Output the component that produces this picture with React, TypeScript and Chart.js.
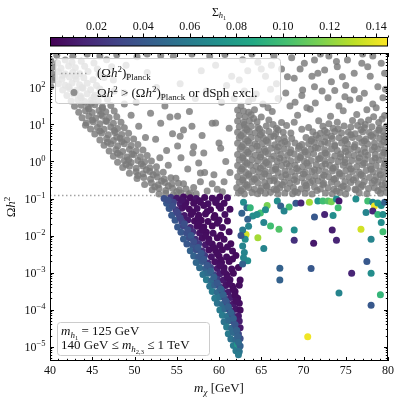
import { useEffect, useRef } from "react";
import { Chart, registerables } from "chart.js";

Chart.register(...registerables);

// ---------- axes / scales ----------
const xRange = [40, 80];
const yRange = [4.1e-6, 850];
const xMajorTicks = [40, 45, 50, 55, 60, 65, 70, 75, 80];
const yDecadeExponents = [-5, -4, -3, -2, -1, 0, 1, 2];
const sigmaRange = [0, 0.145];
const sigmaTicks = [0.02, 0.04, 0.06, 0.08, 0.1, 0.12, 0.14];
const planckOmega = 0.12;

// ---------- data: [m_chi (GeV), log10(Omega h^2)] for excluded points (grey) ----------
const excludedPoints: [number, number][] = [
  // upper left band
  [40.8,2.87],[42.7,2.84],[44.4,2.9],[45.9,2.85],[47.9,2.88],[50.3,2.83],[51.5,2.9],[53.1,2.86],[54.6,2.84],[56.8,2.9],[58.9,2.85],[60.7,2.89],
  [40.1,2.72],[40.9,2.66],[41.8,2.74],[42.6,2.68],[43.7,2.71],[45.2,2.66],[46.7,2.75],
  [40.4,2.55],[41.3,2.52],[42.2,2.58],[43.0,2.53],[44.1,2.57],[45.6,2.5],[47.3,2.56],[49.0,2.6],
  [40.2,2.38],[41.0,2.42],[41.8,2.36],[42.7,2.41],[43.5,2.37],[44.5,2.43],[45.8,2.35],
  [40.3,2.2],[40.6,2.27],[41.4,2.22],[42.3,2.28],[43.1,2.23],[44.0,2.26],[45.1,2.21],[46.4,2.27],
  [40.1,2.02],[41.0,2.1],[41.8,2.06],[42.6,2.12],[43.5,2.07],[44.4,2.11],[45.5,2.05],
  [41.5,1.93],[42.3,1.97],[43.1,1.92],[43.9,1.98],[44.8,1.94],[45.9,1.96],[47.6,1.9],
  [42.0,1.78],[42.8,1.82],[43.6,1.77],[44.4,1.83],[45.3,1.79],[46.3,1.81],
  [42.5,1.63],[43.3,1.67],[44.1,1.62],[44.9,1.66],[45.7,1.64],[46.8,1.68],
  [42.9,1.49],[43.7,1.52],[44.5,1.47],[45.3,1.53],[46.2,1.48],[47.2,1.51],[48.8,1.55],
  [43.4,1.33],[44.2,1.37],[45.0,1.32],[45.8,1.38],[46.6,1.34],[47.6,1.36],
  [43.8,1.18],[44.6,1.22],[45.4,1.17],[46.2,1.23],[47.0,1.19],[47.9,1.21],[49.6,1.25],
  [44.3,1.04],[45.1,1.07],[45.9,1.02],[46.7,1.08],[47.5,1.03],[48.4,1.06],
  [44.8,0.88],[45.6,0.92],[46.4,0.87],[47.2,0.93],[48.0,0.89],[48.8,0.91],[50.5,0.95],
  [45.3,0.74],[46.1,0.77],[46.9,0.72],[47.7,0.78],[48.5,0.73],[49.3,0.76],
  [45.9,0.58],[46.7,0.62],[47.5,0.57],[48.3,0.63],[49.1,0.59],[49.9,0.61],[51.3,0.65],
  [46.4,0.44],[47.2,0.47],[48.0,0.42],[48.8,0.48],[49.6,0.43],[50.4,0.46],
  [47.0,0.28],[47.8,0.32],[48.6,0.27],[49.4,0.33],[50.2,0.29],[51.0,0.31],
  [47.5,0.14],[48.3,0.17],[49.1,0.12],[49.9,0.18],[50.7,0.13],[51.5,0.16],
  [48.0,-0.02],[48.8,0.02],[49.6,-0.03],[50.4,0.03],[51.2,-0.01],[52.0,0.01],
  [48.6,-0.16],[49.4,-0.13],[50.2,-0.18],[51.0,-0.12],[51.8,-0.17],[52.6,-0.14],
  [49.4,-0.32],[50.2,-0.28],[51.0,-0.33],[51.8,-0.27],[52.6,-0.31],[53.4,-0.29],
  [50.3,-0.46],[51.1,-0.43],[51.9,-0.48],[52.7,-0.42],[53.5,-0.47],[54.3,-0.44],
  [51.2,-0.62],[52.0,-0.58],[52.8,-0.63],[53.6,-0.57],[54.4,-0.61],[55.2,-0.59],
  [52.1,-0.76],[52.9,-0.73],[53.7,-0.78],[54.5,-0.72],[55.3,-0.77],[56.1,-0.74],
  [52.9,-0.88],[53.7,-0.86],[54.6,-0.9],[55.5,-0.85],[56.4,-0.89],[57.3,-0.87],
  // band, in-between points
  [44.6,1.42],[46.2,1.44],[45.0,1.12],[46.6,1.1],[45.9,0.82],[47.6,0.84],[46.8,0.52],[48.5,0.54],[48.0,0.22],[49.7,0.2],
  [49.0,-0.08],[50.8,-0.06],[50.4,-0.38],[52.2,-0.36],[52.4,-0.68],[54.0,-0.66],[43.7,1.72],[45.2,1.74],[42.2,2.02],[43.8,2.0],
  [41.5,2.32],[43.0,2.3],[44.2,0.98],[47.9,0.66],[49.3,0.05],[51.4,-0.22],[53.2,-0.53],[55.0,-0.82],[46.0,1.27],[44.9,1.57],
  // scattered between band and resonance
  [51.9,1.3],[53.1,1.03],[53.6,1.5],[54.2,1.2],[55.1,1.22],[55.8,0.85],[56.5,1.35],[59.2,1.03],[59.6,1.04],[58.2,0.23],
  [60.0,0.5],[57.6,-0.04],[59.4,-0.36],[52.5,0.6],[53.8,0.3],[54.5,0.75],[55.5,0.1],[56.3,-0.2],[57.0,0.4],[56.8,0.95],
  [58.0,0.7],[60.8,0.0],[61.2,0.9],[60.3,1.6],[58.5,1.9],[57.2,1.7],[55.4,2.1],[61.5,2.3],[59.6,2.6],[57.9,2.45],
  [50.2,1.6],[52.6,2.0],[49.2,2.3],[54.9,-0.45],[55.8,-0.6],[57.0,-0.7],[57.8,-0.55],[58.6,-0.8],[58.3,-0.3],[56.6,-0.85],
  [59.8,-0.75],[60.6,-0.55],[61.3,-0.3],[53.4,1.75],[51.5,2.4],[48.8,1.85],[47.5,2.2],[55.4,0.68],[55.1,0.42],[56.9,0.23],
  [57.8,-0.31],[60.2,0.36],[59.2,-0.6],[60.4,-0.82],[54.0,-0.1],[53.0,0.1],
  // dense cloud above the resonance
  [62.3,-0.85],[63.0,-0.88],[63.9,-0.84],[64.6,-0.87],[65.5,-0.86],[66.1,-0.83],[67.0,-0.88],[67.8,-0.85],[68.7,-0.87],[69.3,-0.84],
  [70.2,-0.86],[71.0,-0.88],[72.6,-0.85],[73.4,-0.87],[74.3,-0.84],[75.0,-0.88],[76.6,-0.85],[77.5,-0.87],[79.1,-0.86],[79.8,-0.84],
  [62.1,-0.71],[62.8,-0.74],[63.5,-0.7],[64.2,-0.75],[65.0,-0.72],[65.7,-0.69],[66.5,-0.75],[67.2,-0.71],[68.1,-0.73],[68.8,-0.7],
  [69.7,-0.74],[70.4,-0.72],[71.3,-0.69],[72.0,-0.74],[72.9,-0.71],[73.6,-0.75],[74.5,-0.7],[75.2,-0.73],[76.1,-0.75],[76.8,-0.69],
  [77.7,-0.73],[78.4,-0.71],[79.2,-0.74],[79.9,-0.7],
  [62.4,-0.56],[63.1,-0.6],[63.9,-0.55],[64.6,-0.58],[65.4,-0.57],[66.0,-0.53],[66.9,-0.6],[67.7,-0.56],[68.4,-0.59],[69.2,-0.54],
  [70.1,-0.58],[70.8,-0.57],[71.7,-0.53],[72.4,-0.59],[73.3,-0.56],[74.0,-0.6],[74.9,-0.55],[75.6,-0.57],[76.5,-0.6],[77.2,-0.54],
  [78.1,-0.58],[78.8,-0.56],[79.7,-0.59],
  [62.2,-0.41],[62.9,-0.44],[63.6,-0.4],[64.4,-0.43],[65.1,-0.42],[65.9,-0.39],[66.6,-0.45],[67.4,-0.41],[68.2,-0.43],[69.0,-0.4],
  [69.8,-0.44],[70.6,-0.42],[71.4,-0.39],[72.2,-0.43],[73.0,-0.41],[73.8,-0.45],[74.6,-0.4],[75.4,-0.42],[76.2,-0.44],[77.0,-0.39],
  [77.8,-0.43],[78.6,-0.41],[79.4,-0.44],
  [62.5,-0.26],[63.2,-0.3],[64.0,-0.25],[64.7,-0.28],[65.5,-0.27],[66.3,-0.24],[67.0,-0.3],[67.8,-0.26],[68.6,-0.28],[69.4,-0.25],
  [70.2,-0.29],[71.0,-0.27],[71.8,-0.24],[72.6,-0.28],[73.4,-0.26],[74.2,-0.3],[75.0,-0.25],[75.8,-0.27],[76.6,-0.29],[77.4,-0.24],
  [78.2,-0.28],[79.0,-0.26],[79.8,-0.29],
  [62.2,-0.11],[62.9,-0.14],[63.7,-0.1],[64.4,-0.13],[65.2,-0.12],[65.9,-0.09],[66.7,-0.15],[67.4,-0.11],[68.3,-0.13],[69.0,-0.1],
  [69.9,-0.14],[70.6,-0.12],[71.5,-0.09],[72.2,-0.13],[73.1,-0.11],[73.8,-0.15],[74.7,-0.1],[75.4,-0.12],[76.3,-0.14],[77.0,-0.09],
  [77.9,-0.13],[78.6,-0.11],[79.5,-0.14],
  [62.4,0.04],[63.1,0.0],[63.9,0.05],[64.6,0.02],[65.4,0.03],[66.2,0.06],[66.9,0.0],[67.7,0.04],[68.5,0.02],[69.3,0.05],
  [70.1,0.01],[70.9,0.03],[71.7,0.06],[72.5,0.02],[73.3,0.04],[74.1,0.0],[74.9,0.05],[75.7,0.03],[76.5,0.01],[77.3,0.06],
  [78.1,0.02],[78.9,0.04],[79.7,0.01],
  [62.2,0.19],[62.9,0.16],[63.6,0.2],[64.3,0.17],[65.0,0.18],[65.8,0.21],[66.5,0.15],[67.3,0.19],[68.1,0.17],[68.9,0.2],
  [69.7,0.16],[70.5,0.18],[71.2,0.21],[72.1,0.17],[72.8,0.19],[73.7,0.15],[74.4,0.2],[75.3,0.18],[76.0,0.16],[76.8,0.21],
  [77.6,0.17],[78.5,0.19],[79.3,0.16],[79.9,0.2],
  [62.5,0.34],[63.2,0.31],[63.9,0.35],[64.7,0.32],[65.4,0.33],[66.2,0.36],[66.9,0.3],[67.7,0.34],[68.5,0.32],[69.4,0.35],
  [70.1,0.31],[70.9,0.33],[71.7,0.36],[72.5,0.32],[73.3,0.34],[74.0,0.3],[74.9,0.35],[75.6,0.33],[76.4,0.31],[77.2,0.36],
  [78.1,0.32],[78.8,0.34],[79.6,0.31],
  [62.2,0.49],[62.9,0.46],[63.6,0.5],[64.3,0.47],[65.1,0.48],[65.8,0.51],[66.6,0.45],[67.4,0.49],[68.1,0.47],[69.0,0.5],
  [69.8,0.46],[70.6,0.48],[71.3,0.51],[72.1,0.47],[72.9,0.49],[73.7,0.45],[74.5,0.5],[75.2,0.48],[76.1,0.46],[76.9,0.51],
  [77.6,0.47],[78.4,0.49],[79.2,0.46],[79.9,0.5],
  [62.4,0.64],[63.1,0.61],[63.8,0.65],[64.6,0.62],[65.3,0.63],[66.1,0.66],[67.0,0.6],[67.7,0.64],[68.6,0.62],[70.3,0.65],
  [71.0,0.61],[71.8,0.63],[72.6,0.66],[73.4,0.62],[74.2,0.64],[75.0,0.6],[75.8,0.65],[76.6,0.63],[77.4,0.61],[78.2,0.66],
  [79.0,0.62],[79.7,0.64],
  [62.2,0.79],[62.9,0.76],[63.6,0.8],[64.3,0.77],[65.1,0.78],[65.9,0.81],[66.7,0.75],[67.6,0.79],[68.5,0.77],[71.1,0.8],
  [72.0,0.76],[72.8,0.78],[73.7,0.81],[74.5,0.77],[75.3,0.79],[76.1,0.75],[77.0,0.8],[77.8,0.78],[78.6,0.76],[79.4,0.81],
  [62.4,0.94],[63.1,0.91],[63.8,0.95],[64.6,0.92],[65.6,0.96],[66.8,0.9],[68.0,0.97],[70.6,0.92],[72.3,0.95],[73.5,0.9],
  [74.8,0.96],[75.6,0.93],[76.4,0.97],[77.2,0.91],[78.1,0.94],[79.0,0.9],[79.8,0.95],
  [62.2,1.09],[62.9,1.06],[63.6,1.1],[64.5,1.07],[65.9,1.12],[67.4,1.05],[71.8,1.1],[74.0,1.06],[75.8,1.11],[76.8,1.07],
  [77.7,1.12],[78.9,1.05],
  [62.4,1.24],[63.1,1.21],[63.8,1.26],[65.0,1.2],[69.3,1.25],[73.2,1.22],[76.3,1.27],[78.3,1.21],[79.6,1.24],
  [62.2,1.39],[62.9,1.36],[64.2,1.4],[66.3,1.35],[70.8,1.41],[74.7,1.37],[77.5,1.4],
  // dense cloud, in-between points
  [62.6,-0.79],[64.9,-0.8],[66.8,-0.77],[69.0,-0.81],[71.6,-0.78],[73.9,-0.8],[76.2,-0.77],[78.8,-0.79],
  [63.3,-0.64],[65.6,-0.66],[67.5,-0.63],[70.3,-0.65],[72.3,-0.62],[74.7,-0.66],[77.0,-0.64],[79.3,-0.63],
  [62.8,-0.5],[64.2,-0.48],[66.5,-0.51],[68.9,-0.49],[71.1,-0.52],[73.6,-0.48],[75.9,-0.5],[78.4,-0.51],
  [63.5,-0.35],[65.4,-0.33],[67.9,-0.36],[70.0,-0.34],[72.4,-0.37],[74.3,-0.33],[76.8,-0.35],[79.1,-0.36],
  [62.7,-0.2],[64.9,-0.18],[66.7,-0.21],[69.2,-0.19],[71.3,-0.22],[73.5,-0.18],[75.6,-0.2],[78.0,-0.21],
  [63.3,-0.05],[65.6,-0.03],[68.0,-0.06],[70.4,-0.04],[72.6,-0.07],[74.9,-0.03],[77.2,-0.05],[79.6,-0.06],
  [62.8,0.1],[64.9,0.12],[67.2,0.09],[69.6,0.11],[71.9,0.08],[74.4,0.12],[76.6,0.1],[78.5,0.09],
  [63.4,0.25],[65.5,0.27],[68.4,0.24],[70.2,0.26],[72.6,0.23],[75.0,0.27],[77.3,0.25],[79.5,0.24],
  [62.7,0.4],[64.5,0.42],[67.0,0.39],[69.5,0.41],[71.4,0.38],[73.7,0.42],[76.0,0.4],[78.4,0.39],
  [63.4,0.55],[65.6,0.57],[67.8,0.54],[70.9,0.56],[72.5,0.53],[74.9,0.57],[77.2,0.55],[79.5,0.54],
  [62.6,0.7],[64.9,0.72],[66.5,0.69],[71.5,0.71],[73.3,0.68],[75.6,0.72],[78.0,0.7],[79.5,0.69],
  [63.3,0.86],[64.8,0.88],[67.0,0.85],[69.8,0.87],[72.5,0.84],[74.1,0.88],[76.8,0.86],[78.9,0.85],
  [63.0,1.0],[64.1,1.16],[66.4,1.0],[68.9,1.06],[73.0,1.02],[77.3,1.0],[79.3,1.15],[63.5,1.33],
  // medium / sparse upper right
  [62.6,1.5],[63.5,1.62],[65.2,1.55],[67.0,1.7],[68.4,1.5],[69.8,1.78],[71.4,1.58],[72.9,1.72],[74.2,1.5],[75.5,1.66],
  [78.2,1.55],[79.4,1.72],[64.4,1.82],[66.1,1.95],[73.7,1.92],
  [62.4,2.2],[63.4,2.45],[64.6,2.68],[65.5,2.3],[66.5,2.85],[67.4,2.5],[63.9,2.9],[62.8,2.75],
  [70.1,2.65],[71.3,2.74],[71.7,2.38],[72.5,2.47],[74.0,2.56],[75.2,2.74],[76.0,2.38],[77.6,2.56],[79.2,2.65],[79.6,2.38],
  [68.1,2.29],[68.9,2.25],[69.9,1.93],[71.3,2.02],[73.3,2.15],[74.6,2.29],[76.0,1.93],[77.2,1.84],[78.8,2.02],[73.0,2.85],
  [77.0,2.9],[68.6,2.8],
  [64.0,1.7],[65.8,1.45],[66.8,2.1],[67.9,1.85],[69.0,1.6],[70.4,1.45],[71.0,2.3],[72.2,1.9],[73.9,2.7],[75.0,2.05],
  [76.6,1.7],[77.9,2.3],[78.6,1.45],[79.7,1.95],[65.0,2.5],[66.2,2.6],[69.6,2.5],[72.0,2.9],[74.9,1.75],[76.9,2.65],
  [78.2,2.85],[63.0,1.9],[61.8,1.7],[60.9,2.05],
];

// ---------- data: [m_chi (GeV), log10(Omega h^2), Sigma_h1] for allowed points ----------
const allowedPoints: [number, number, number][] = [
  [53.5,-1.0,0.035],[54.3,-0.97,0.025],[55.0,-0.99,0.01],[55.8,-0.96,0.006],[56.6,-0.98,0.005],[57.3,-1.0,0.008],[58.3,-0.97,0.005],[59.2,-0.99,0.006],[60.1,-0.96,0.004],[61.0,-0.98,0.007],
  [53.8,-1.13,0.04],[54.6,-1.1,0.03],[55.4,-1.14,0.012],[56.1,-1.11,0.006],[57.0,-1.13,0.005],[57.8,-1.1,0.004],[58.7,-1.14,0.006],[59.6,-1.11,0.005],[60.6,-1.13,0.005],
  [54.1,-1.27,0.04],[54.9,-1.3,0.02],[55.6,-1.26,0.008],[56.5,-1.29,0.005],[57.4,-1.27,0.006],[59.0,-1.3,0.004],[60.2,-1.26,0.006],[61.3,-1.29,0.005],
  [54.4,-1.45,0.04],[55.2,-1.42,0.03],[55.9,-1.46,0.01],[56.7,-1.43,0.006],[57.6,-1.45,0.005],[58.4,-1.42,0.005],[59.5,-1.46,0.004],[60.7,-1.43,0.006],
  [54.8,-1.59,0.04],[55.6,-1.62,0.03],[56.3,-1.58,0.01],[57.1,-1.61,0.005],[57.9,-1.59,0.004],[58.7,-1.62,0.005],[60.0,-1.58,0.006],[61.0,-1.61,0.004],
  [55.1,-1.77,0.04],[55.8,-1.74,0.03],[56.6,-1.78,0.015],[57.4,-1.75,0.006],[58.2,-1.77,0.005],[59.2,-1.74,0.004],[60.4,-1.78,0.005],
  [55.5,-1.91,0.04],[56.2,-1.94,0.035],[56.9,-1.9,0.02],[57.7,-1.93,0.008],[58.5,-1.91,0.005],[59.3,-1.94,0.006],[61.2,-1.9,0.005],
  [55.8,-2.09,0.042],[56.5,-2.06,0.035],[57.2,-2.1,0.02],[58.0,-2.07,0.006],[58.8,-2.09,0.005],[59.8,-2.06,0.004],[60.6,-2.1,0.005],
  [56.2,-2.23,0.04],[56.9,-2.26,0.038],[57.6,-2.22,0.025],[58.4,-2.25,0.01],[59.2,-2.23,0.005],[60.1,-2.26,0.005],[61.4,-2.22,0.004],
  [56.6,-2.41,0.045],[57.3,-2.38,0.035],[58.0,-2.42,0.02],[58.8,-2.39,0.006],[59.6,-2.41,0.005],[60.4,-2.38,0.004],[61.6,-2.42,0.005],
  [57.0,-2.55,0.045],[57.6,-2.58,0.04],[58.3,-2.54,0.025],[59.1,-2.57,0.008],[60.0,-2.55,0.005],[60.9,-2.58,0.005],[62.0,-2.54,0.004],
  [57.3,-2.73,0.048],[58.0,-2.7,0.042],[58.7,-2.74,0.02],[59.5,-2.71,0.006],[60.3,-2.73,0.005],[61.2,-2.7,0.004],
  [57.7,-2.87,0.05],[58.4,-2.9,0.045],[59.0,-2.86,0.03],[59.8,-2.89,0.01],[60.6,-2.87,0.005],[61.5,-2.9,0.005],[62.3,-2.86,0.004],
  [58.1,-3.05,0.055],[58.7,-3.02,0.05],[59.4,-3.06,0.03],[60.1,-3.03,0.012],[60.9,-3.05,0.005],[61.7,-3.02,0.004],
  [58.5,-3.19,0.06],[59.1,-3.22,0.05],[59.8,-3.18,0.025],[60.5,-3.21,0.01],[61.3,-3.19,0.005],[62.5,-3.2,0.005],
  [58.9,-3.37,0.055],[59.5,-3.34,0.045],[60.1,-3.38,0.03],[60.8,-3.35,0.008],[61.6,-3.37,0.004],[62.4,-3.34,0.005],
  [59.2,-3.51,0.06],[59.8,-3.54,0.05],[60.4,-3.5,0.03],[61.1,-3.53,0.01],[61.9,-3.51,0.005],
  [59.5,-3.69,0.06],[60.1,-3.66,0.055],[60.7,-3.7,0.035],[61.4,-3.67,0.012],[62.2,-3.69,0.005],
  [59.8,-3.83,0.055],[60.4,-3.86,0.05],[61.0,-3.82,0.03],[61.7,-3.85,0.01],[62.4,-3.83,0.006],
  [60.1,-4.01,0.06],[60.7,-3.98,0.05],[61.3,-4.02,0.03],[62.0,-3.99,0.008],[62.5,-4.01,0.005],
  [60.4,-4.15,0.06],[61.0,-4.18,0.055],[61.6,-4.14,0.03],[62.3,-4.17,0.01],
  [60.6,-4.33,0.055],[61.2,-4.3,0.05],[61.8,-4.34,0.035],[62.4,-4.31,0.012],
  [60.9,-4.47,0.06],[61.5,-4.5,0.05],[62.1,-4.46,0.03],[62.5,-4.49,0.01],
  [61.1,-4.65,0.06],[61.7,-4.62,0.05],[62.3,-4.66,0.03],
  [61.4,-4.79,0.055],[62.0,-4.82,0.05],[62.5,-4.78,0.035],
  [61.7,-4.97,0.06],[62.2,-4.94,0.08],[62.5,-4.98,0.045],
  [62.0,-5.11,0.06],[62.4,-5.13,0.055],
  [62.3,-5.22,0.06],
  // triangle, in-between points
  [54.0,-1.05,0.035],[55.6,-1.05,0.008],[57.7,-1.06,0.005],[59.7,-1.04,0.006],
  [54.5,-1.2,0.035],[56.0,-1.21,0.006],[58.2,-1.19,0.005],[60.0,-1.2,0.005],
  [55.0,-1.36,0.03],[56.9,-1.37,0.005],[58.6,-1.35,0.005],
  [55.4,-1.52,0.03],[57.5,-1.53,0.005],[59.4,-1.51,0.004],
  [55.9,-1.68,0.035],[57.6,-1.69,0.005],[59.8,-1.67,0.005],
  [56.3,-1.84,0.035],[58.0,-1.85,0.005],
  [56.7,-2.0,0.04],[58.4,-2.01,0.005],[60.2,-1.99,0.004],
  [57.0,-2.16,0.035],[58.8,-2.17,0.006],
  [57.5,-2.32,0.04],[59.4,-2.33,0.005],[61.0,-2.31,0.005],
  [57.9,-2.48,0.04],[59.8,-2.49,0.005],
  [58.2,-2.64,0.04],[60.2,-2.65,0.005],[61.6,-2.63,0.004],
  [58.6,-2.8,0.04],[60.1,-2.81,0.006],
  [59.0,-2.96,0.045],[60.6,-2.97,0.006],
  [59.4,-3.12,0.045],[61.0,-3.13,0.006],
  [59.8,-3.28,0.04],[61.2,-3.29,0.006],
  [60.2,-3.44,0.045],[61.7,-3.45,0.005],
  [60.5,-3.6,0.045],[61.9,-3.61,0.005],
  [60.8,-3.76,0.04],[62.0,-3.77,0.006],
  [61.1,-3.92,0.045],[61.4,-4.08,0.045],[61.7,-4.24,0.045],[61.9,-4.4,0.04],[62.1,-4.56,0.045],[62.2,-4.72,0.045],[62.3,-4.88,0.05],
  // above the resonance
  [66.9,-1.07,0.07],[65.7,-1.19,0.115],[67.3,-1.2,0.045],[68.3,-1.23,0.1],[67.7,-1.34,0.065],[69.1,-1.13,0.04],[69.7,-1.12,0.015],
  [70.7,-1.1,0.125],[71.7,-1.07,0.075],[72.3,-1.07,0.1],[72.9,-1.07,0.105],[73.3,-1.09,0.115],[73.9,-1.01,0.07],[74.2,-1.07,0.01],
  [74.1,-1.25,0.1],[72.5,-1.43,0.015],[73.5,-1.46,0.07],[71.3,-1.5,0.04],[76.2,-1.01,0.07],[77.6,-1.07,0.1],[78.2,-1.1,0.065],
  [78.4,-1.2,0.142],[78.8,-1.12,0.075],[79.2,-1.19,0.07],[79.6,-1.1,0.045],[77.4,-1.38,0.065],[78.2,-1.34,0.015],[78.8,-1.43,0.095],
  [79.4,-1.43,0.07],[79.2,-1.65,0.07],[79.4,-1.9,0.1],[76.8,-1.83,0.135],[78.0,-2.1,0.065],[73.4,-1.85,0.012],[73.9,-2.13,0.015],
  [71.2,-2.21,0.01],[68.9,-2.13,0.02],[68.9,-1.85,0.07],[67.1,-1.83,0.105],[66.1,-1.74,0.1],[65.3,-2.35,0.065],[64.6,-2.06,0.125],
  [64.0,-1.47,0.07],[64.9,-1.39,0.1],[65.5,-1.3,0.07],[63.4,-1.56,0.045],[63.2,-1.97,0.135],[62.8,-2.28,0.065],[63.0,-2.46,0.065],
  [63.4,-2.68,0.07],[62.8,-2.77,0.045],[67.2,-2.88,0.045],[67.2,-3.2,0.045],[70.9,-2.89,0.04],[75.7,-3.02,0.015],[77.5,-2.7,0.04],
  [78.0,-3.02,0.07],[74.2,-3.55,0.065],[79.1,-3.6,0.095],[78.0,-3.88,0.04],[70.5,-4.73,0.142],
  [62.9,-1.1,0.07],[63.3,-1.25,0.05],[62.7,-1.4,0.045],[63.5,-1.75,0.065],[62.8,-1.85,0.06],[63.1,-2.1,0.07],[62.6,-2.0,0.04],
  [63.7,-1.25,0.095],[64.5,-1.43,0.07],[65.3,-1.65,0.065],[62.9,-2.6,0.065],
];

// ---------- styling ----------
const FAMILY = '"Liberation Serif", "DejaVu Serif", serif';
const INK = "#111111";
const GREY = "rgba(122,122,122,0.82)";
const PLANCK_COLOR = "#a3a3a3";
const POINT_R = 3.5;
const VIRIDIS = [
  [68, 1, 84], [72, 36, 117], [65, 68, 135], [53, 95, 141], [42, 120, 142], [33, 145, 140],
  [34, 168, 132], [68, 191, 112], [122, 209, 81], [189, 223, 38], [253, 231, 37],
];

function viridis(t: number) {
  const u = Math.max(0, Math.min(1, t)) * (VIRIDIS.length - 1);
  const i = Math.min(VIRIDIS.length - 2, Math.floor(u));
  const f = u - i;
  const a = VIRIDIS[i], b = VIRIDIS[i + 1];
  const c = [0, 1, 2].map((k) => Math.round(a[k] + (b[k] - a[k]) * f));
  return `rgb(${c[0]},${c[1]},${c[2]})`;
}

type Seg = { t: string; s: number; it?: boolean; dy?: number };
function fontOf(g: Seg) {
  return `${g.it ? "italic " : ""}${g.s}px ${FAMILY}`;
}
function drawRich(ctx: CanvasRenderingContext2D, segs: Seg[], x: number, y: number, align: string) {
  let w = 0;
  for (const g of segs) { ctx.font = fontOf(g); w += ctx.measureText(g.t).width; }
  let cx = align === "center" ? x - w / 2 : align === "right" ? x - w : x;
  ctx.textAlign = "left";
  ctx.textBaseline = "alphabetic";
  for (const g of segs) {
    ctx.font = fontOf(g);
    ctx.fillText(g.t, cx, y + (g.dy || 0));
    cx += ctx.measureText(g.t).width;
  }
}
function roundBox(ctx: CanvasRenderingContext2D, x: number, y: number, w: number, h: number, r: number) {
  ctx.beginPath();
  ctx.moveTo(x + r, y);
  ctx.arcTo(x + w, y, x + w, y + h, r);
  ctx.arcTo(x + w, y + h, x, y + h, r);
  ctx.arcTo(x, y + h, x, y, r);
  ctx.arcTo(x, y, x + w, y, r);
  ctx.closePath();
  ctx.fillStyle = "rgba(255,255,255,0.8)";
  ctx.fill();
  ctx.strokeStyle = "#cccccc";
  ctx.lineWidth = 1;
  ctx.stroke();
}

const decorPlugin = {
  id: "decor",
  afterDatasetsDraw(chart: any) {
    const ctx: CanvasRenderingContext2D = chart.ctx;
    const ca = chart.chartArea;
    const xs = chart.scales.x, ys = chart.scales.y, cs = chart.scales.cb;
    ctx.save();

    // legend
    roundBox(ctx, 55.5, 58.5, 225, 45, 3);
    ctx.strokeStyle = PLANCK_COLOR; ctx.lineWidth = 1.5; ctx.setLineDash([1.5, 2.5]);
    ctx.beginPath(); ctx.moveTo(61, 73.5); ctx.lineTo(87, 73.5); ctx.stroke(); ctx.setLineDash([]);
    ctx.fillStyle = INK;
    drawRich(ctx, [
      { t: "(Ω", s: 13 }, { t: "h", s: 13, it: true }, { t: "2", s: 9, dy: -5 }, { t: ")", s: 13 },
      { t: "Planck", s: 9, dy: 3 },
    ], 97, 77, "left");
    ctx.fillStyle = GREY; ctx.beginPath(); ctx.arc(74, 92.5, POINT_R, 0, Math.PI * 2); ctx.fill();
    ctx.fillStyle = INK;
    drawRich(ctx, [
      { t: "Ω", s: 13 }, { t: "h", s: 13, it: true }, { t: "2", s: 9, dy: -5 }, { t: " > (Ω", s: 13 },
      { t: "h", s: 13, it: true }, { t: "2", s: 9, dy: -5 }, { t: ")", s: 13 }, { t: "Planck", s: 9, dy: 3 },
      { t: " or dSph excl.", s: 13 },
    ], 97, 97, "left");

    // text box
    roundBox(ctx, 57.5, 322.5, 152, 33, 3);
    ctx.fillStyle = INK;
    drawRich(ctx, [
      { t: "m", s: 13, it: true }, { t: "h", s: 9, it: true, dy: 3 }, { t: "1", s: 6.5, dy: 5 },
      { t: " = 125 GeV", s: 13 },
    ], 61, 335, "left");
    drawRich(ctx, [
      { t: "140 GeV ≤ ", s: 13 }, { t: "m", s: 13, it: true }, { t: "h", s: 9, it: true, dy: 3 },
      { t: "2,3", s: 6.5, dy: 5 }, { t: " ≤ 1 TeV", s: 13 },
    ], 61, 349, "left");

    // frame
    ctx.strokeStyle = "#000"; ctx.lineWidth = 1;
    ctx.strokeRect(ca.left + 0.5, ca.top + 0.5, ca.right - ca.left - 1, ca.bottom - ca.top - 1);

    // x ticks (inward, both sides)
    ctx.beginPath();
    for (let v = xRange[0]; v <= xRange[1]; v += 1) {
      const px = Math.round(xs.getPixelForValue(v)) + 0.5;
      const len = v % 5 === 0 ? 4 : 2.2;
      ctx.moveTo(px, ca.bottom); ctx.lineTo(px, ca.bottom - len);
      ctx.moveTo(px, ca.top); ctx.lineTo(px, ca.top + len);
    }
    // y ticks
    for (let k = -6; k <= 3; k++) {
      for (let m = 1; m <= 9; m++) {
        const v = m * Math.pow(10, k);
        if (v < yRange[0] || v > yRange[1]) continue;
        const py = Math.round(ys.getPixelForValue(v)) + 0.5;
        const len = m === 1 ? 4 : 2.2;
        ctx.moveTo(ca.left, py); ctx.lineTo(ca.left + len, py);
        ctx.moveTo(ca.right, py); ctx.lineTo(ca.right - len, py);
      }
    }
    ctx.stroke();

    // tick labels
    ctx.fillStyle = INK;
    for (const v of xMajorTicks) {
      drawRich(ctx, [{ t: String(v), s: 12 }], xs.getPixelForValue(v), 374, "center");
    }
    for (const e of yDecadeExponents) {
      const py = ys.getPixelForValue(Math.pow(10, e));
      const exp = e < 0 ? "−" + String(-e) : String(e);
      drawRich(ctx, [{ t: "10", s: 12 }, { t: exp, s: 8.5, dy: -5 }], 45.5, py + 4.5, "right");
    }

    // axis titles
    drawRich(ctx, [
      { t: "m", s: 13, it: true }, { t: "χ", s: 9, it: true, dy: 3 }, { t: " [GeV]", s: 13 },
    ], (ca.left + ca.right) / 2, 392, "center");
    ctx.save();
    ctx.translate(15, (ca.top + ca.bottom) / 2);
    ctx.rotate(-Math.PI / 2);
    drawRich(ctx, [{ t: "Ω", s: 13 }, { t: "h", s: 13, it: true }, { t: "2", s: 9, dy: -5 }], 0, 0, "center");
    ctx.restore();

    // colour bar
    const c0 = cs.getPixelForValue(sigmaRange[0]);
    const c1 = cs.getPixelForValue(sigmaRange[1]);
    const top = 37.5, h = 8.5;
    const grad = ctx.createLinearGradient(c0, 0, c1, 0);
    VIRIDIS.forEach((c, i) => grad.addColorStop(i / (VIRIDIS.length - 1), `rgb(${c[0]},${c[1]},${c[2]})`));
    ctx.fillStyle = grad;
    ctx.fillRect(c0, top, c1 - c0, h);
    ctx.strokeStyle = "#000"; ctx.lineWidth = 1;
    ctx.strokeRect(c0 + 0.5, top, c1 - c0 - 1, h);
    ctx.beginPath();
    for (let i = 1; i * 0.005 <= sigmaRange[1] + 1e-9; i++) {
      const v = i * 0.005;
      const px = Math.round(cs.getPixelForValue(v)) + 0.5;
      const major = i % 4 === 0;
      ctx.moveTo(px, top); ctx.lineTo(px, top - (major ? 4 : 2));
    }
    ctx.stroke();
    ctx.fillStyle = INK;
    for (const v of sigmaTicks) {
      drawRich(ctx, [{ t: v.toFixed(2), s: 12 }], cs.getPixelForValue(v), 29.5, "center");
    }
    drawRich(ctx, [{ t: "Σ", s: 12 }, { t: "h", s: 8.5, it: true, dy: 2.5 }, { t: "1", s: 6, dy: 4.5 }],
      (c0 + c1) / 2, 15.5, "center");

    ctx.restore();
  },
};

export default function App() {
  const ref = useRef<HTMLCanvasElement | null>(null);
  useEffect(() => {
    const canvas = ref.current;
    if (!canvas) return;
    const allowedData = allowedPoints.map(([m, l]) => ({ x: m, y: Math.pow(10, l) }));
    const allowedColors = allowedPoints.map(([, , s]) => viridis((s - sigmaRange[0]) / (sigmaRange[1] - sigmaRange[0])));
    const excludedData = excludedPoints.map(([m, l]) => ({ x: m, y: Math.pow(10, l) }));
    const chart = new Chart(canvas, {
      type: "scatter",
      data: {
        datasets: [
          {
            label: "allowed",
            data: allowedData,
            pointRadius: POINT_R,
            pointBackgroundColor: allowedColors,
            pointBorderWidth: 0,
            pointBorderColor: "rgba(0,0,0,0)",
            order: 0,
            clip: 0,
          },
          {
            label: "excluded",
            data: excludedData,
            pointRadius: POINT_R,
            pointBackgroundColor: GREY,
            pointBorderWidth: 0,
            pointBorderColor: "rgba(0,0,0,0)",
            order: 1,
            clip: 0,
          },
          {
            type: "line",
            label: "planck",
            data: [{ x: xRange[0], y: planckOmega }, { x: xRange[1], y: planckOmega }],
            borderColor: PLANCK_COLOR,
            borderWidth: 1.5,
            borderDash: [1.5, 2.5],
            pointRadius: 0,
            showLine: true,
            fill: false,
            order: 2,
            clip: 0,
          },
        ],
      } as any,
      options: {
        responsive: false,
        animation: false,
        events: [],
        layout: { padding: { left: 50, right: 11, top: 53, bottom: 38 } },
        scales: {
          x: { type: "linear", min: xRange[0], max: xRange[1], display: false },
          y: { type: "logarithmic", min: yRange[0], max: yRange[1], display: false },
          cb: { type: "linear", axis: "x", min: sigmaRange[0], max: sigmaRange[1], display: false },
        },
        plugins: { legend: { display: false }, tooltip: { enabled: false } },
      } as any,
      plugins: [decorPlugin],
    });
    return () => chart.destroy();
  }, []);
  return (
    <div style={{ position: "absolute", left: 0, top: 0, width: 399, height: 399, background: "#fff" }}>
      <canvas ref={ref} width={399} height={399} style={{ display: "block" }} />
    </div>
  );
}
